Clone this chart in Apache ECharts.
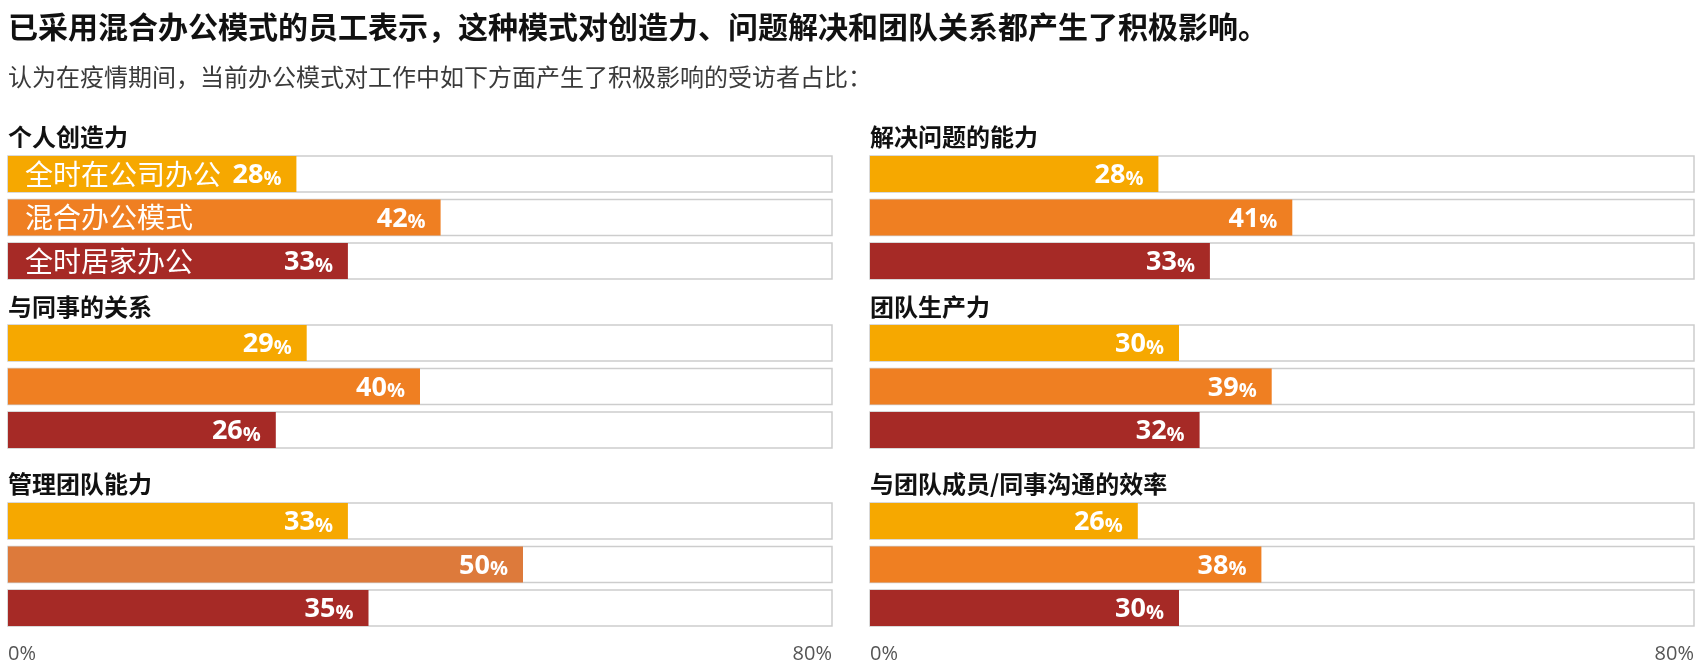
<!DOCTYPE html>
<html>
<head>
<meta charset="utf-8">
<script src="https://cdn.jsdelivr.net/npm/echarts@6/dist/echarts.min.js"></script>
<style>
  html, body { margin: 0; padding: 0; background: #fff; }
  #chart { width: 1700px; height: 671px; }
</style>
</head>
<body>
<div id="chart"></div>
<script>
// ------------------------------
// DATA
// ------------------------------
const modes = ["全时在公司办公", "混合办公模式", "全时居家办公"];
const panelTitles = ["个人创造力", "与同事的关系", "管理团队能力", "解决问题的能力", "团队生产力", "与团队成员/同事沟通的效率"];
const creativity = [28, 42, 33];
const colleagues = [29, 40, 26];
const managing = [33, 50, 35];
const problemSolving = [28, 41, 33];
const productivity = [30, 39, 32];
const communication = [26, 38, 30];
const panelValues = [creativity, colleagues, managing, problemSolving, productivity, communication];
const axisMax = 80;

// ------------------------------
// LAYOUT & STYLE
// ------------------------------
const cjk = "Noto Sans CJK SC";
const modeColors = ["#F6A800", "#EF7F22", "#A62A26"];
const mutedOrange = "#DD7A3B"; // the 50% bar in 管理团队能力 is a softer orange
const colLeft = [8, 870];
const colWidth = 824;
const rowTop = [152.25, 321.25, 499.25];
const rowHeight = 130.5;
const titleMid = [137, 307, 484];

let grids = [], xAxes = [], yAxes = [], series = [];
let titles = [
  { text: "已采用混合办公模式的员工表示，这种模式对创造力、问题解决和团队关系都产生了积极影响。",
    left: 8, top: 12, padding: 0,
    textStyle: { fontFamily: cjk, fontSize: 30, fontWeight: "bold", color: "#111" } },
  { text: "认为在疫情期间，当前办公模式对工作中如下方面产生了积极影响的受访者占比：",
    left: 8, top: 65, padding: 0,
    textStyle: { fontFamily: cjk, fontSize: 24, fontWeight: "normal", color: "#3a3a3a" } }
];

panelValues.forEach((values, i) => {
  let col = Math.floor(i / 3), row = i % 3;

  titles.push({
    text: panelTitles[i], left: colLeft[col], top: titleMid[row] - 12, padding: 0,
    textStyle: { fontFamily: cjk, fontSize: 24, fontWeight: "bold", color: "#111" }
  });

  grids.push({ left: colLeft[col], top: rowTop[row], width: colWidth, height: rowHeight });

  xAxes.push({
    gridIndex: i, type: "value", min: 0, max: axisMax, interval: axisMax,
    axisLine: { show: false }, axisTick: { show: false }, splitLine: { show: false },
    axisLabel: {
      show: row === 2, formatter: "{value}%", margin: 15,
      alignMinLabel: "left", alignMaxLabel: "right",
      fontFamily: "Open Sans", fontSize: 20, color: "#555"
    }
  });

  yAxes.push({
    gridIndex: i, type: "category", data: modes, inverse: true, z: 5,
    axisLine: { show: false }, axisTick: { show: false },
    axisLabel: {
      show: i === 0, inside: true, margin: 17,
      fontFamily: cjk, fontSize: 28, color: "#fff"
    }
  });

  series.push({
    type: "bar", xAxisIndex: i, yAxisIndex: i, data: values, barWidth: 36,
    showBackground: true,
    backgroundStyle: { color: "#fff", borderColor: "#cdcdcd", borderWidth: 1.5 },
    itemStyle: {
      color: p => (i === 2 && p.dataIndex === 1) ? mutedOrange : modeColors[p.dataIndex]
    },
    label: {
      show: true, position: "insideRight", distance: 15,
      formatter: p => "{n|" + p.value + "}{p|%}",
      rich: {
        n: { fontFamily: "Open Sans", fontWeight: "bold", fontSize: 27, color: "#fff", verticalAlign: "bottom", lineHeight: 30 },
        p: { fontFamily: "Open Sans", fontWeight: "bold", fontSize: 20, color: "#fff", verticalAlign: "bottom", lineHeight: 27 }
      }
    },
    animation: false
  });
});

// ------------------------------
// INIT
// ------------------------------
let chart = echarts.init(document.getElementById("chart"));
chart.setOption({
  backgroundColor: "#fff",
  animation: false,
  title: titles,
  grid: grids,
  xAxis: xAxes,
  yAxis: yAxes,
  series: series
});
</script>
</body>
</html>
